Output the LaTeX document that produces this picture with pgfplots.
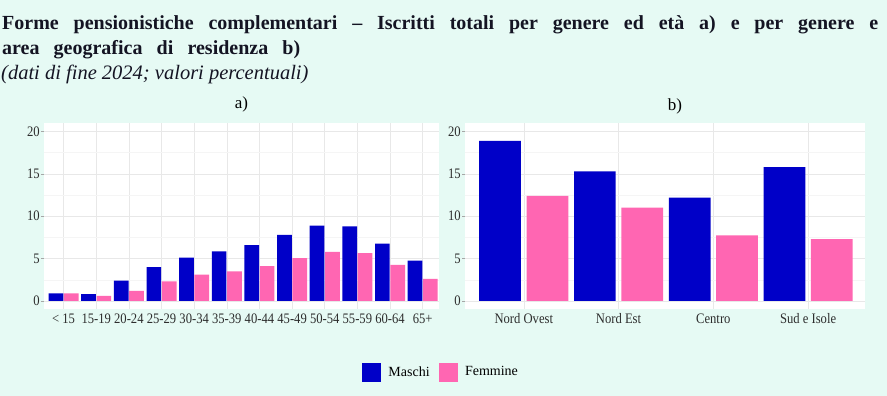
\documentclass[border=0pt]{standalone}
\usepackage{pgfplots}
\pgfplotsset{compat=1.18}
\usepackage{fontspec}
\setmainfont{Liberation Serif}
\newfontfamily\tickfont[FakeStretch=0.87]{Liberation Serif}
\definecolor{bg}{RGB}{230,250,244}
\definecolor{maschi}{RGB}{0,0,200}
\definecolor{femmine}{RGB}{255,102,178}
\definecolor{tickc}{RGB}{45,45,45}
\definecolor{titc}{RGB}{20,20,35}

\pgfplotstableread{
x M F
0 0.9 0.9
1 0.8 0.6
2 2.4 1.2
3 4.0 2.3
4 5.1 3.1
5 5.85 3.5
6 6.6 4.1
7 7.8 5.05
8 8.9 5.8
9 8.8 5.65
10 6.75 4.25
11 4.75 2.6
}\etatab

\pgfplotstableread{
x M F
0 18.9 12.4
1 15.3 11.0
2 12.2 7.75
3 15.8 7.3
}\areatab

\pgfplotsset{
  panel/.style={
    scale only axis, anchor=south west,
    height=186pt,
    ymin=-0.95, ymax=21,
    ytick={0,5,10,15,20},
    minor ytick={2.5,7.5,12.5,17.5},
    grid=both,
    major grid style={draw=black!9, line width=0.5pt},
    minor grid style={draw=black!4, line width=0.4pt},
    axis line style={draw=none},
    axis background/.style={fill=white},
    ytick pos=left, xtick pos=bottom,
    tick align=outside,
    major tick length=3pt, minor tick length=0pt,
    tick style={draw=black!35, line width=0.5pt},
    xtick style={draw=none},
    xtick=data,
    /pgf/number format/assume math mode=true,
    ticklabel style={font=\tickfont\fontsize{14.5}{14.5}\selectfont, text=tickc},
    yticklabel style={inner sep=1pt},
    xticklabel style={yshift=2pt},
    clip=false,
  }
}

\begin{document}
\begin{tikzpicture}
\fill[bg] (0,0) rectangle (887pt,396pt);
\path[use as bounding box] (0,0) rectangle (887pt,396pt);

\node[anchor=base west, inner sep=0pt, text=titc] at (2pt,366pt)
  {\makebox[876pt][s]{\bfseries\fontsize{20}{24}\selectfont Forme pensionistiche complementari – Iscritti totali per genere ed età a) e per genere e}};
\node[anchor=base west, inner sep=0pt, text=titc] at (2pt,341pt)
  {\makebox[298pt][s]{\bfseries\fontsize{20}{24}\selectfont area geografica di residenza b)}};
\node[anchor=base west, inner sep=0pt, text=titc] at (1pt,316pt)
  {\itshape\fontsize{20.5}{22}\selectfont (dati di fine 2024; valori percentuali)};

\begin{axis}[panel,
  at={(44pt,87pt)}, width=395pt,
  xmin=-0.6, xmax=11.5,
  xticklabels={< 15,15-19,20-24,25-29,30-34,35-39,40-44,45-49,50-54,55-59,60-64,65+},
]
\addplot[ybar, bar width=0.45, bar shift=-0.235, fill=maschi, draw=none] table[x=x,y=M]{\etatab};
\addplot[ybar, bar width=0.45, bar shift=0.235, fill=femmine, draw=none] table[x=x,y=F]{\etatab};
\node[font=\fontsize{17}{17}\selectfont] at (axis description cs:0.5,1.102) {a)};
\end{axis}

\begin{axis}[panel,
  at={(465pt,87pt)}, width=400pt,
  xmin=-0.62, xmax=3.6,
  xticklabels={Nord Ovest,Nord Est,Centro,Sud e Isole},
  legend style={at={(-0.0625,-0.339)}, anchor=center, draw=none, fill=none,
    legend columns=2, font=\fontsize{14}{14}\selectfont,
    nodes={inner sep=0pt},
    /tikz/every odd column/.append style={column sep=8pt},
    /tikz/every even column/.append style={column sep=9pt}},
]
\addplot[ybar, bar width=0.44, bar shift=-0.25, fill=maschi, draw=none, forget plot] table[x=x,y=M]{\areatab};
\addplot[ybar, bar width=0.44, bar shift=0.25, fill=femmine, draw=none, forget plot] table[x=x,y=F]{\areatab};
\addlegendimage{legend image code/.code={\fill[maschi] (0pt,-9pt) rectangle (18pt,9pt);}}
\addlegendentry{Maschi}
\addlegendimage{legend image code/.code={\fill[femmine] (0pt,-9pt) rectangle (18pt,9pt);}}
\addlegendentry{Femmine}
\node[font=\fontsize{17}{17}\selectfont] at (axis description cs:0.525,1.09) {b)};
\end{axis}
\end{tikzpicture}
\end{document}
